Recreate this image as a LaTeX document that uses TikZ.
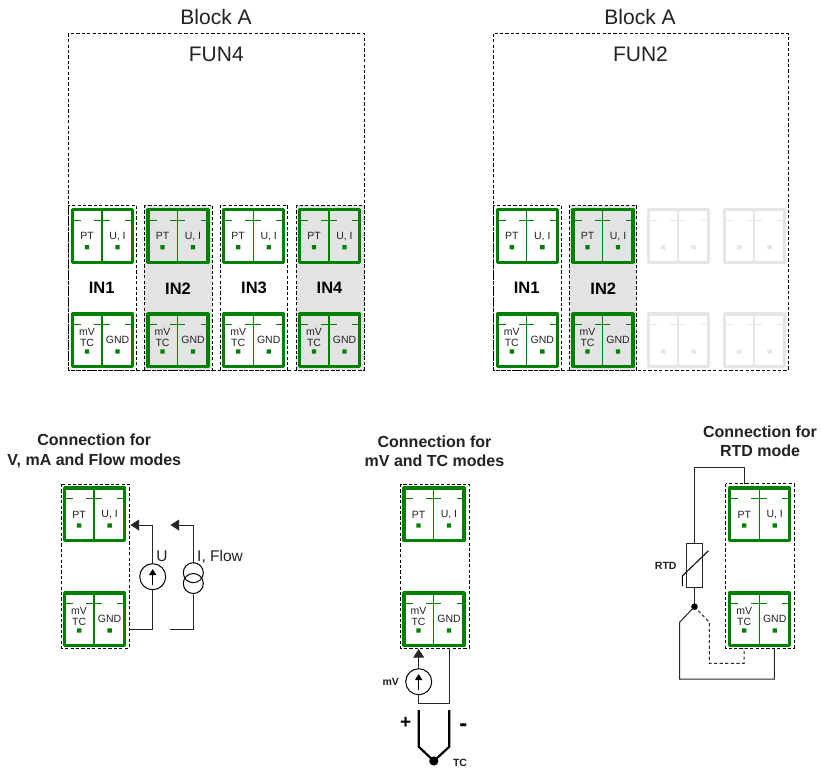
\documentclass[tikz,border=0pt]{standalone}
\usepackage{fontspec}
\setmainfont{Liberation Sans}
\usetikzlibrary{arrows.meta}
\definecolor{cgreen}{HTML}{008000}
\definecolor{cghost}{HTML}{E6E6E6}
\definecolor{cgray}{HTML}{E3E3E3}
\definecolor{ctext}{HTML}{222222}
\tikzset{
  frame/.style={draw=black,dashed,dash pattern=on 3.2pt off 2.2pt,line width=0.9pt},
  head/.style={font=\fontsize{21}{24}\selectfont,text=ctext,inner sep=0pt},
  inlabel/.style={font=\fontsize{16.5}{19}\bfseries\selectfont,text=black,inner sep=0pt},
  conntitle/.style={font=\fontsize{16}{19.3}\bfseries\selectfont,text=ctext,align=center,inner sep=0pt},
  small/.style={font=\fontsize{10.5}{12}\selectfont,text=ctext,inner sep=0pt},
  tagl/.style={font=\fontsize{10.5}{12}\bfseries\selectfont,text=ctext,inner sep=0pt},
  biglabel/.style={font=\fontsize{15.5}{18}\selectfont,text=ctext,inner sep=0pt},
  wire/.style={draw=black!85,line width=1pt},
  arrowwire/.style={wire,-{Triangle[length=8.7pt,width=11pt]}},
  innerarrow/.style={-{Triangle[length=6pt,width=7pt]},line width=1.5pt,black},
  source/.style={circle,draw=black,line width=1pt,fill=white,minimum size=26pt,inner sep=0pt},
  coil/.style={circle,draw=black,line width=1pt,minimum size=20pt,inner sep=0pt},
}
% x, y of the stroke's top-left corner, colour, fill
\newcommand\blockbody[4]{%
  \begin{scope}[shift={(#1,#2)}]
    \draw[#3,line width=3.1pt,fill=#4,line join=round] (0,0) rectangle (60,52.5);
    \draw[#3,line width=1.3pt] (29.5,0) -- (29.5,52.5);
    \draw[#3,line width=1.1pt] (0,10.5) -- (8.5,10.5) (21.5,10.5) -- (37,10.5) (52.5,10.5) -- (60,10.5);
    \fill[#3] (12.3,35.3) rectangle (16.7,39.7) (42.8,35.3) rectangle (47.2,39.7);
  \end{scope}}
\newcommand\upperconn[3]{\blockbody{#1}{#2}{cgreen}{#3}%
  \node[small] at (#1+14.5,#2+26.5) {PT};
  \node[small] at (#1+45,#2+26.5) {U, I};}
\newcommand\lowerconn[3]{\blockbody{#1}{#2}{cgreen}{#3}%
  \node[small] at (#1+14.5,#2+18) {mV};
  \node[small] at (#1+14.5,#2+29) {TC};
  \node[small] at (#1+45,#2+26.2) {GND};}
\begin{document}
\begin{tikzpicture}[x=1pt,y=-1pt]
\useasboundingbox (0,0) rectangle (821,769);
\fill[white] (0,0) rectangle (821,769);

% ---- top left
\node[head] (blockA1) at (216,16.5) {Block A};
\node[head] (fun4) at (216.3,54.5) {FUN4};
\draw[frame] (68.3,33.7) rectangle (364,370);
\draw[frame] (68.3,205) rectangle (136.3,370);
\draw[frame,fill=cgray] (144,205) rectangle (212.3,370);
\draw[frame] (220,205) rectangle (287.7,370);
\draw[frame,fill=cgray] (296,205) rectangle (364,370);
\upperconn{72.5}{209.7}{white}
\upperconn{148}{209.7}{cgray}
\upperconn{223.7}{209.7}{white}
\upperconn{299.5}{209.7}{cgray}
\lowerconn{72.5}{314}{white}
\lowerconn{148}{314}{cgray}
\lowerconn{223.7}{314}{white}
\lowerconn{299.5}{314}{cgray}
\node[inlabel] (in1a) at (101.7,288.3) {IN1};
\node[inlabel] (in2a) at (178,288.3) {IN2};
\node[inlabel] (in3a) at (254,288.3) {IN3};
\node[inlabel] (in4a) at (329.5,288.3) {IN4};

% ---- top right
\node[head] (blockA2) at (640,16.5) {Block A};
\node[head] (fun2) at (640.5,54.5) {FUN2};
\draw[frame] (493.3,33.7) rectangle (788.3,370);
\draw[frame] (493.3,205) rectangle (561.3,370);
\draw[frame,fill=cgray] (569,205) rectangle (636.7,370);
\upperconn{497.3}{209.7}{white}
\upperconn{573}{209.7}{cgray}
\lowerconn{497.3}{314}{white}
\lowerconn{573}{314}{cgray}
\blockbody{648.6}{209.7}{cghost}{white}
\blockbody{724.6}{209.7}{cghost}{white}
\blockbody{648.6}{314}{cghost}{white}
\blockbody{724.6}{314}{cghost}{white}
\node[inlabel] (in1b) at (526.7,288.3) {IN1};
\node[inlabel] (in2b) at (603.3,288.3) {IN2};

% ---- voltage / current connection
\node[conntitle] (t1) at (94.3,451) {Connection for\\V, mA and Flow modes};
\draw[frame] (61.7,484) rectangle (129,648);
\upperconn{64.6}{488}{white}
\lowerconn{64.6}{593}{white}
\coordinate (uTip) at (130.5,525);
\coordinate (uCorner) at (152.7,525);
\coordinate (uLow) at (152.7,629.3);
\coordinate (uEnd) at (129,629.3);
\node[source] (uSrc) at (152.7,576.7) {};
\draw[arrowwire] (uSrc.north) -- (uCorner) -- (uTip);
\draw[wire] (uSrc.south) -- (uLow) -- (uEnd);
\draw[innerarrow] (152.7,584.5) -- (152.7,569);
\node[biglabel] (uLab) at (162,556.7) {U};

\coordinate (iTip) at (170.5,525);
\coordinate (iCorner) at (193.3,525);
\coordinate (iLow) at (193.3,629.3);
\coordinate (iEnd) at (170,629.3);
\node[coil] (iSrcA) at (193.3,572.7) {};
\node[coil] (iSrcB) at (193.3,583.5) {};
\draw[arrowwire] (iSrcA.north) -- (iCorner) -- (iTip);
\draw[wire] (iSrcB.south) -- (iLow) -- (iEnd);
\node[biglabel,anchor=west] (iLab) at (197,556.7) {I, Flow};

% ---- mV / TC connection
\node[conntitle] (t2) at (434.5,451) {Connection for\\mV and TC modes};
\draw[frame] (400.5,484) rectangle (469,648);
\upperconn{404}{488}{white}
\lowerconn{404}{593}{white}
\coordinate (mvTip) at (418.7,649);
\coordinate (mvLow) at (418.7,703.3);
\coordinate (mvCorner) at (449.3,703.3);
\coordinate (mvEnd) at (449.3,648);
\node[source] (mvSrc) at (418.7,681.7) {};
\draw[arrowwire] (mvSrc.north) -- (mvTip);
\draw[wire] (mvSrc.south) -- (mvLow) -- (mvCorner) -- (mvEnd);
\draw[innerarrow] (418.7,689.5) -- (418.7,674);
\node[tagl] (mvLab) at (390.8,681.5) {mV};
\coordinate (tcJoin) at (433.8,761);
\coordinate (tcA) at (418.7,710);
\coordinate (tcA2) at (418.7,746.7);
\coordinate (tcB) at (449.3,710);
\coordinate (tcB2) at (449.3,746.7);
\draw[black,line width=2.2pt] (tcA) -- (tcA2) -- (tcJoin) -- (tcB2) -- (tcB);
\fill[black] (tcJoin) circle (4.6);
\node[font=\fontsize{19}{22}\bfseries\selectfont,inner sep=0pt] (plus) at (405.7,723) {+};
\node[font=\fontsize{24}{26}\bfseries\selectfont,inner sep=0pt] (minus) at (463.3,727.5) {-};
\node[tagl] (tcLab) at (460,762.5) {TC};

% ---- RTD connection
\node[conntitle] (t3) at (760,441.5) {Connection for\\RTD mode};
\draw[frame] (725.7,483.5) rectangle (794,648);
\upperconn{729.7}{488}{white}
\lowerconn{729.7}{593}{white}
\node[draw=black!85,line width=1pt,minimum width=15.6pt,minimum height=44.4pt,inner sep=0pt,fill=white] (rtd) at (694.5,565.5) {};
\coordinate (rA) at (744,483.5);
\coordinate (rB) at (744,467.3);
\coordinate (rC) at (694.5,467.3);
\coordinate (rDot) at (694.5,606.7);
\coordinate (rL) at (679.5,622.3);
\coordinate (rLB) at (679.5,679);
\coordinate (rRB) at (774.3,679);
\coordinate (rRE) at (774.3,648);
\coordinate (rDR) at (709.3,622.3);
\coordinate (rDB) at (709.3,663.3);
\coordinate (rDE) at (744,663.3);
\coordinate (rDT) at (744,648);
\draw[wire] (rA) -- (rB) -- (rC) -- (rtd.north);
\draw[wire] (rtd.south) -- (rDot);
\draw[wire] (rDot) -- (rL) -- (rLB) -- (rRB) -- (rRE);
\draw[wire,dashed,dash pattern=on 3.2pt off 2.4pt] (rDot) -- (rDR) -- (rDB) -- (rDE) -- (rDT);
\fill[black] (rDot) circle (3.3);
\draw[black,line width=1pt] (682.3,586) -- (682.3,576) -- (708.5,550.7);
\node[tagl] (rtdLab) at (665.7,566) {RTD};
\end{tikzpicture}
\end{document}
